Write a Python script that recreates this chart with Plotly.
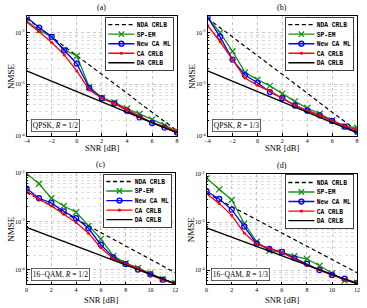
import plotly.graph_objects as go

# ---------------- data ----------------
snr_qpsk = [-4, -3, -2, -1, 0, 1, 2, 3, 4, 5, 6, 7, 8]
snr_qam = [0, 1, 2, 3, 4, 5, 6, 7, 8, 9, 10, 11, 12]

series_names = ["NDA CRLB", "SP-EM", "New CA ML", "CA CRLB", "DA CRLB"]

# QPSK (shared bounds)
nda_qpsk = [0.01905, 0.01259, 0.00832, 0.00537, 0.00355, 0.00234, 0.00155,
            0.00102, 0.000676, 0.000437, 0.000288, 0.000191, 0.000126]
da_qpsk = [0.00182, 0.00145, 0.00115, 0.000912, 0.000724, 0.000575, 0.000457,
           0.000363, 0.000288, 0.000229, 0.000182, 0.000145, 0.000115]

# (a) QPSK, R = 1/2
spem_a = [0.0170, 0.0112, 0.00832, 0.00468, 0.00355, 0.000891, 0.000550,
          0.000447, 0.000339, 0.000269, 0.000209, 0.000162, 0.000123]
newca_a = [0.0200, 0.0126, 0.00832, 0.00457, 0.00251, 0.000851, 0.000537,
           0.000427, 0.000309, 0.000229, 0.000178, 0.000145, 0.000117]
cacrlb_a = [0.0162, 0.0105, 0.00646, 0.00372, 0.00182, 0.000776, 0.000537,
            0.000427, 0.000324, 0.000240, 0.000182, 0.000151, 0.000123]

# (b) QPSK, R = 1/3
spem_b = [0.0200, 0.0100, 0.00437, 0.00170, 0.00123, 0.000933, 0.000661,
          0.000468, 0.000347, 0.000269, 0.000200, 0.000155, 0.000145]
newca_b = [0.0200, 0.00832, 0.00302, 0.00151, 0.00107, 0.000708, 0.000537,
           0.000389, 0.000309, 0.000251, 0.000195, 0.000151, 0.000120]
cacrlb_b = [0.0138, 0.00676, 0.00302, 0.00132, 0.000955, 0.000741, 0.000537,
            0.000398, 0.000309, 0.000251, 0.000195, 0.000155, 0.000132]

# 16-QAM (shared bounds)
nda_qam = [0.00398, 0.00290, 0.00211, 0.00153, 0.00112, 0.000813, 0.000592,
           0.000431, 0.000313, 0.000228, 0.000166, 0.000121, 0.0000879]
da_qam = [0.000759, 0.000607, 0.000486, 0.000389, 0.000311, 0.000249, 0.000199,
          0.000159, 0.000127, 0.000102, 0.0000813, 0.0000651, 0.0000521]

# (c) 16-QAM, R = 1/2
spem_c = [0.00977, 0.00603, 0.00302, 0.00209, 0.00155, 0.000813, 0.000437,
          0.000195, 0.000138, 0.000110, 0.0000851, 0.0000646, 0.0000537]
newca_c = [0.00479, 0.00302, 0.00240, 0.00162, 0.00117, 0.000724, 0.000331,
           0.000182, 0.000132, 0.000102, 0.0000813, 0.0000631, 0.0000515]
cacrlb_c = [0.00427, 0.00288, 0.00209, 0.00141, 0.000955, 0.000575, 0.000288,
            0.000170, 0.000132, 0.000110, 0.0000794, 0.0000631, 0.0000525]

# (d) 16-QAM, R = 1/3
spem_d = [0.00813, 0.00479, 0.00288, 0.000933, 0.000389, 0.000251, 0.000234,
          0.000195, 0.000170, 0.000123, 0.0000851, 0.0000603, 0.0000537]
newca_d = [0.00437, 0.00302, 0.00182, 0.000813, 0.000355, 0.000275, 0.000240,
           0.000178, 0.000135, 0.000100, 0.0000794, 0.0000661, 0.0000537]
cacrlb_d = [0.00389, 0.00245, 0.00138, 0.000589, 0.000347, 0.000288, 0.000234,
            0.000170, 0.000126, 0.000100, 0.0000794, 0.0000631, 0.0000537]

panel_titles = ["(a)", "(b)", "(c)", "(d)"]
panel_labels = ["QPSK, <i>R</i> = 1/2", "QPSK, <i>R</i> = 1/3",
                "16\u2212QAM, <i>R</i> = 1/2", "16\u2212QAM, <i>R</i> = 1/3"]
x_title = "SNR [dB]"
y_title = "NMSE"
ytick_vals = [1e-4, 1e-3, 1e-2]
ytick_text = ["10<sup>-4</sup>", "10<sup>-3</sup>", "10<sup>-2</sup>"]
yminor_vals = [m * 10.0 ** e for e in (-5, -4, -3, -2) for m in range(2, 10)]

# ---------------- styling ----------------
W, H = 367, 308
SERIF = "Liberation Serif"
GREEN = "rgb(25,145,25)"
BLUE = "rgb(0,0,255)"
RED = "rgb(255,0,0)"
LEG_SCALE = 0.45

panels = [
    dict(x=snr_qpsk, nda=nda_qpsk, da=da_qpsk, sp=spem_a, ml=newca_a, ca=cacrlb_a,
         xpx=(24, 177), ypx=(12.5, 135), yr=(-4, -1.68), xr=(-4, 8), xt_y=147.5),
    dict(x=snr_qpsk, nda=nda_qpsk, da=da_qpsk, sp=spem_b, ml=newca_b, ca=cacrlb_b,
         xpx=(208, 360), ypx=(12.5, 135), yr=(-4, -1.68), xr=(-4, 8), xt_y=147.5),
    dict(x=snr_qam, nda=nda_qam, da=da_qam, sp=spem_c, ml=newca_c, ca=cacrlb_c,
         xpx=(24, 175), ypx=(173, 287), yr=(-4.3, -2), xr=(0, 12), xt_y=302.5),
    dict(x=snr_qam, nda=nda_qam, da=da_qam, sp=spem_d, ml=newca_d, ca=cacrlb_d,
         xpx=(207, 360), ypx=(174, 287), yr=(-4.3, -2), xr=(0, 12), xt_y=302.5),
]

styles = [
    dict(mode="lines", line=dict(color="black", width=1.2, dash="4px,3px")),
    dict(mode="lines+markers", line=dict(color=GREEN, width=1.3),
         marker=dict(symbol="x-thin", size=6, line=dict(color=GREEN, width=1.3))),
    dict(mode="lines+markers", line=dict(color=BLUE, width=1.3),
         marker=dict(symbol="circle-open", size=5, line=dict(color=BLUE, width=1.3))),
    dict(mode="lines+markers", line=dict(color=RED, width=1.3),
         marker=dict(symbol="circle", size=3, color=RED)),
    dict(mode="lines", line=dict(color="black", width=1.3)),
]
legend_styles = [
    dict(mode="lines", line=dict(color="black", width=3, dash="9px,6px")),
    dict(mode="lines+markers", line=dict(color=GREEN, width=3),
         marker=dict(symbol="x-thin", size=12, line=dict(color=GREEN, width=3))),
    dict(mode="lines+markers", line=dict(color=BLUE, width=3),
         marker=dict(symbol="circle-open", size=11, line=dict(color=BLUE, width=3))),
    dict(mode="lines+markers", line=dict(color=RED, width=3),
         marker=dict(symbol="circle", size=7, color=RED)),
    dict(mode="lines", line=dict(color="black", width=3)),
]

fig = go.Figure()
layout = dict(width=W, height=H, margin=dict(l=0, r=0, t=0, b=0),
              paper_bgcolor="white", plot_bgcolor="white",
              font=dict(family=SERIF, size=7, color="black"),
              annotations=[], showlegend=True)

for i, p in enumerate(panels):
    k = "" if i == 0 else str(i + 1)
    xa, ya = "x" + k, "y" + k
    leg = "legend" + k
    ys = [p["nda"], p["sp"], p["ml"], p["ca"], p["da"]]
    for j in range(5):
        fig.add_trace(go.Scatter(x=p["x"], y=ys[j], name=series_names[j],
                                 xaxis=xa, yaxis=ya, showlegend=False, **styles[j]))
    # legend entries (no data of their own)
    for j in range(5):
        fig.add_trace(go.Scatter(x=[None], y=[None], name=series_names[j],
                                 xaxis=xa, yaxis=ya, legend=leg, showlegend=True,
                                 hoverinfo="skip", **legend_styles[j]))

    x0, x1 = p["xpx"][0] / W, p["xpx"][1] / W
    y0, y1 = 1 - p["ypx"][1] / H, 1 - p["ypx"][0] / H
    axis_common = dict(showline=True, linecolor="black", linewidth=0.8, mirror=True,
                       ticks="inside", ticklen=3, tickcolor="black",
                       showgrid=True, gridcolor="rgb(200,200,200)", griddash="dot",
                       gridwidth=0.8, zeroline=False,
                       tickfont=dict(family=SERIF, size=6))
    layout["xaxis" + k] = dict(domain=[x0, x1], anchor=ya, range=list(p["xr"]),
                               dtick=2, tick0=0, ticklabelstandoff=-1, **axis_common)
    layout["yaxis" + k] = dict(domain=[y0, y1], anchor=xa, type="log",
                               range=list(p["yr"]), tickvals=ytick_vals,
                               ticktext=ytick_text,
                               minor=dict(showgrid=True, gridcolor="rgb(222,222,222)",
                                          griddash="dot", gridwidth=0.8,
                                          tickvals=yminor_vals, ticks="inside",
                                          ticklen=1.5, tickcolor="black"),
                               **axis_common)
    layout[leg] = dict(x=x1 - 2 / W, y=y1 - 0.5 / H, xanchor="right", yanchor="top",
                       bgcolor="white", bordercolor="rgb(40,40,40)", borderwidth=2,
                       font=dict(family="Liberation Mono", size=14, weight="bold"),
                       itemwidth=58, tracegroupgap=0)
    layout["annotations"].append(dict(text=panel_titles[i], xref="paper", yref="paper",
                                      x=(x0 + x1) / 2, y=y1 + 2 / H, xanchor="center",
                                      yanchor="bottom", showarrow=False,
                                      font=dict(family=SERIF, size=8)))
    layout["annotations"].append(dict(text=x_title, xref="paper", yref="paper",
                                      x=(x0 + x1) / 2, y=1 - p["xt_y"] / H,
                                      xanchor="center", yanchor="middle",
                                      showarrow=False, font=dict(family=SERIF, size=8.5)))
    layout["annotations"].append(dict(text=y_title, xref="paper", yref="paper",
                                      x=(p["xpx"][0] - 16) / W, y=(y0 + y1) / 2,
                                      xanchor="center", yanchor="middle", textangle=-90,
                                      showarrow=False, font=dict(family=SERIF, size=9)))
    layout["annotations"].append(dict(text=panel_labels[i], xref=xa + " domain",
                                      yref=ya + " domain", x=0.03, y=0.03,
                                      xanchor="left", yanchor="bottom", showarrow=False,
                                      bgcolor="white", bordercolor="rgb(60,60,60)",
                                      borderwidth=0.8, borderpad=1,
                                      font=dict(family=SERIF, size=7.5)))

fig.update_layout(**layout)

post_js = """
document.body.style.margin = '0';
document.body.style.overflow = 'hidden';
var gd = document.getElementById('{plot_id}');
var S = %s;
function shrinkLegends(){
  var groups = gd.querySelectorAll('g.infolayer > g');
  groups.forEach(function(g){
    var cls = g.getAttribute('class') || '';
    if (!/^legend\\d*$/.test(cls)) return;
    var t = g.getAttribute('transform') || '';
    if (t.indexOf('scale') >= 0) return;
    var m = /translate\\(\\s*([-\\d.e]+)[ ,]\\s*([-\\d.e]+)\\s*\\)/.exec(t);
    if (!m) return;
    var x = parseFloat(m[1]), y = parseFloat(m[2]);
    var bg = g.querySelector('rect.bg');
    var w = bg ? parseFloat(bg.getAttribute('width')) : 0;
    g.setAttribute('transform', 'translate(' + (x + w * (1 - S)) + ',' + y + ') scale(' + S + ')');
  });
}
shrinkLegends();
gd.on('plotly_afterplot', shrinkLegends);
setTimeout(shrinkLegends, 30);
""" % LEG_SCALE

fig.write_html("out.html", post_script=post_js,
               config={"displayModeBar": False, "staticPlot": False})
